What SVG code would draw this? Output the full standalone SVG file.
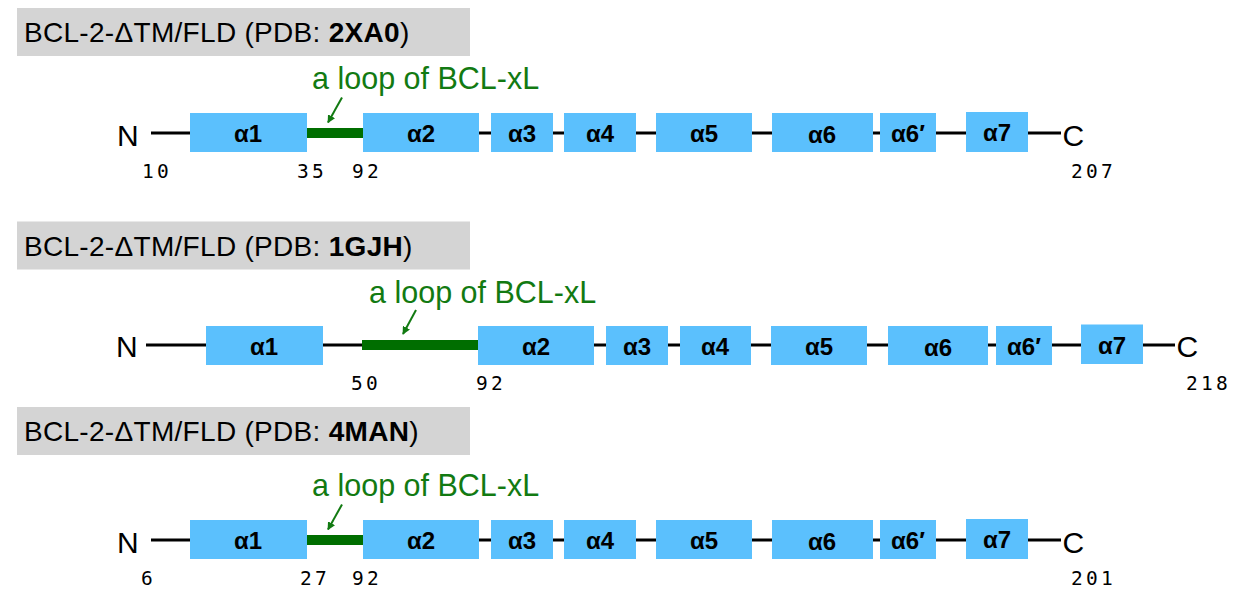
<svg xmlns="http://www.w3.org/2000/svg" width="1235" height="606" viewBox="0 0 1235 606">
<style>
.tbox{fill:#d4d4d4}
.ttl{font-family:"Liberation Sans",Arial,sans-serif;font-size:28px;letter-spacing:0.3px;fill:#000}
.ttl .b{font-weight:bold}
.box{fill:#5bc0fd}
.lbl{font-family:"Liberation Sans",Arial,sans-serif;font-size:24px;font-weight:bold;fill:#000;text-anchor:middle}
.term{font-family:"Liberation Sans",Arial,sans-serif;font-size:30px;fill:#000}
.num{font-family:"DejaVu Sans Mono","Liberation Mono",monospace;font-size:19.5px;letter-spacing:3.2px;fill:#000}
.loop{font-family:"Liberation Sans",Arial,sans-serif;font-size:30.5px;fill:#127a12}
.ln{stroke:#000;stroke-width:3;fill:none}
.gb{stroke:#006e00;stroke-width:10;fill:none}
.ar{stroke:#127a12;stroke-width:2;fill:none}
</style>
<defs>
<marker id="ah" viewBox="0 0 10 10" refX="9" refY="5" markerWidth="4" markerHeight="4" orient="auto" markerUnits="strokeWidth">
<path d="M0,0 L10,5 L0,10 z" fill="#127a12"/>
</marker>
</defs>

<!-- Row 1 -->
<g id="row1">
<g id="title1"><rect class="tbox" x="17" y="8" width="453" height="48"/><text class="ttl" x="24" y="42">BCL-2-ΔTM/FLD (PDB: <tspan class="b">2XA0</tspan>)</text></g>
<g id="loop1"><text class="loop" x="312" y="89">a loop of BCL-xL</text></g>
<g id="conn1">
<line class="ln" x1="151" y1="133" x2="191" y2="133"/>
<line class="gb" x1="305" y1="133" x2="364" y2="133"/>
<line class="ln" x1="478" y1="133" x2="492" y2="133"/>
<line class="ln" x1="552" y1="133" x2="565" y2="133"/>
<line class="ln" x1="635" y1="133" x2="657" y2="133"/>
<line class="ln" x1="751" y1="133" x2="773" y2="133"/>
<line class="ln" x1="872" y1="133" x2="881" y2="133"/>
<line class="ln" x1="935" y1="133" x2="967" y2="133"/>
<line class="ln" x1="1027" y1="133" x2="1061" y2="133"/>
<line class="ar" x1="342" y1="97.5" x2="328" y2="122.5" marker-end="url(#ah)"/>
</g>
<g id="N1"><text class="term" x="117" y="145.5">N</text></g>
<g id="a1_1"><rect class="box" x="190" y="113" width="117" height="39"/><text class="lbl" x="248" y="142">α1</text></g>
<g id="a2_1"><rect class="box" x="363" y="113" width="116" height="39"/><text class="lbl" x="421" y="142">α2</text></g>
<g id="a3_1"><rect class="box" x="491" y="113" width="62" height="39"/><text class="lbl" x="522" y="142">α3</text></g>
<g id="a4_1"><rect class="box" x="564" y="113" width="72" height="39"/><text class="lbl" x="600" y="142">α4</text></g>
<g id="a5_1"><rect class="box" x="656" y="113" width="96" height="39"/><text class="lbl" x="704" y="142">α5</text></g>
<g id="a6_1"><rect class="box" x="772" y="113" width="101" height="39"/><text class="lbl" x="822" y="143">α6</text></g>
<g id="a6p_1"><rect class="box" x="880" y="113" width="56" height="39"/><text class="lbl" x="908" y="142">α6′</text></g>
<g id="a7_1"><rect class="box" x="966" y="112" width="62" height="40"/><text class="lbl" x="997" y="141">α7</text></g>
<g id="C1"><text class="term" x="1062.5" y="145.5">C</text></g>
<g id="nums1">
<text class="num" x="142" y="177.5">10</text>
<text class="num" x="297" y="177.5">35</text>
<text class="num" x="352" y="177.5">92</text>
<text class="num" x="1071" y="177.5">207</text>
</g>
</g>

<!-- Row 2 -->
<g id="row2" transform="translate(0,213.5)">
<g id="title2"><rect class="tbox" x="17" y="8" width="453" height="48"/><text class="ttl" x="24" y="42">BCL-2-ΔTM/FLD (PDB: <tspan class="b">1GJH</tspan>)</text></g>
<g id="loop2"><text class="loop" x="369" y="89.5">a loop of BCL-xL</text></g>
<g id="conn2">
<line class="ln" x1="146" y1="131.5" x2="207" y2="131.5"/>
<line class="ln" x1="322" y1="131.5" x2="363" y2="131.5"/>
<line class="gb" x1="362" y1="131.5" x2="479" y2="131.5"/>
<line class="ln" x1="593" y1="131.5" x2="607" y2="131.5"/>
<line class="ln" x1="667" y1="131.5" x2="681" y2="131.5"/>
<line class="ln" x1="750" y1="131.5" x2="772" y2="131.5"/>
<line class="ln" x1="866" y1="131.5" x2="889" y2="131.5"/>
<line class="ln" x1="987" y1="131.5" x2="997" y2="131.5"/>
<line class="ln" x1="1051" y1="131.5" x2="1082" y2="131.5"/>
<line class="ln" x1="1143" y1="131.5" x2="1175" y2="131.5"/>
<line class="ar" x1="416" y1="96.5" x2="403" y2="120.5" marker-end="url(#ah)"/>
</g>
<g id="N2"><text class="term" x="116" y="143">N</text></g>
<g id="a1_2"><rect class="box" x="206" y="112.5" width="117" height="39"/><text class="lbl" x="264" y="141.5">α1</text></g>
<g id="a2_2"><rect class="box" x="478" y="112.5" width="116" height="39"/><text class="lbl" x="536" y="141.5">α2</text></g>
<g id="a3_2"><rect class="box" x="606" y="112.5" width="62" height="39"/><text class="lbl" x="637" y="141.5">α3</text></g>
<g id="a4_2"><rect class="box" x="680" y="112.5" width="71" height="39"/><text class="lbl" x="715" y="141.5">α4</text></g>
<g id="a5_2"><rect class="box" x="771" y="112.5" width="96" height="39"/><text class="lbl" x="819" y="141.5">α5</text></g>
<g id="a6_2"><rect class="box" x="888" y="112.5" width="100" height="39"/><text class="lbl" x="938" y="142.5">α6</text></g>
<g id="a6p_2"><rect class="box" x="996" y="112.5" width="56" height="39"/><text class="lbl" x="1024" y="141.5">α6′</text></g>
<g id="a7_2"><rect class="box" x="1081" y="111" width="62" height="39.5"/><text class="lbl" x="1112" y="140">α7</text></g>
<g id="C2"><text class="term" x="1176.5" y="143">C</text></g>
<g id="nums2">
<text class="num" x="351" y="176.5">50</text>
<text class="num" x="476" y="176.5">92</text>
<text class="num" x="1186" y="176.5">218</text>
</g>
</g>

<!-- Row 3 -->
<g id="row3" transform="translate(0,407)">
<g id="title3"><rect class="tbox" x="17" y="0" width="453" height="48"/><text class="ttl" x="24" y="34">BCL-2-ΔTM/FLD (PDB: <tspan class="b">4MAN</tspan>)</text></g>
<g id="loop3"><text class="loop" x="312" y="89">a loop of BCL-xL</text></g>
<g id="conn3">
<line class="ln" x1="151" y1="133" x2="191" y2="133"/>
<line class="gb" x1="305" y1="133" x2="364" y2="133"/>
<line class="ln" x1="478" y1="133" x2="492" y2="133"/>
<line class="ln" x1="552" y1="133" x2="565" y2="133"/>
<line class="ln" x1="635" y1="133" x2="657" y2="133"/>
<line class="ln" x1="751" y1="133" x2="773" y2="133"/>
<line class="ln" x1="872" y1="133" x2="881" y2="133"/>
<line class="ln" x1="935" y1="133" x2="967" y2="133"/>
<line class="ln" x1="1027" y1="133" x2="1061" y2="133"/>
<line class="ar" x1="342" y1="97.5" x2="328" y2="122.5" marker-end="url(#ah)"/>
</g>
<g id="N3"><text class="term" x="117" y="145.5">N</text></g>
<g id="a1_3"><rect class="box" x="190" y="113" width="117" height="39"/><text class="lbl" x="248" y="142">α1</text></g>
<g id="a2_3"><rect class="box" x="363" y="113" width="116" height="39"/><text class="lbl" x="421" y="142">α2</text></g>
<g id="a3_3"><rect class="box" x="491" y="113" width="62" height="39"/><text class="lbl" x="522" y="142">α3</text></g>
<g id="a4_3"><rect class="box" x="564" y="113" width="72" height="39"/><text class="lbl" x="600" y="142">α4</text></g>
<g id="a5_3"><rect class="box" x="656" y="113" width="96" height="39"/><text class="lbl" x="704" y="142">α5</text></g>
<g id="a6_3"><rect class="box" x="772" y="113" width="101" height="39"/><text class="lbl" x="822" y="143">α6</text></g>
<g id="a6p_3"><rect class="box" x="880" y="113" width="56" height="39"/><text class="lbl" x="908" y="142">α6′</text></g>
<g id="a7_3"><rect class="box" x="966" y="112" width="62" height="40"/><text class="lbl" x="997" y="141">α7</text></g>
<g id="C3"><text class="term" x="1062.5" y="145.5">C</text></g>
<g id="nums3">
<text class="num" x="141" y="177.5">6</text>
<text class="num" x="300" y="177.5">27</text>
<text class="num" x="352" y="177.5">92</text>
<text class="num" x="1071" y="177.5">201</text>
</g>
</g>
</svg>
